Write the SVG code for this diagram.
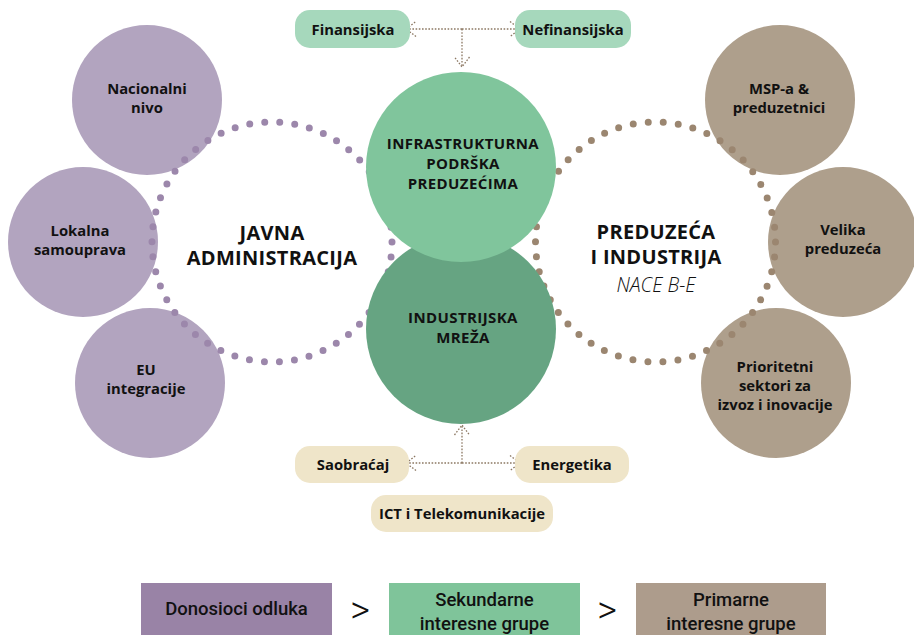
<svg xmlns="http://www.w3.org/2000/svg" width="914" height="635" viewBox="0 0 914 635">
<defs>
<style>
.t{font-family:"Open Sans","Liberation Sans",sans-serif;font-weight:700;fill:#111111;text-anchor:middle}
.s{font-size:14.8px}
.c{font-size:15px;letter-spacing:0.4px}
.big{font-size:20px;font-weight:700;letter-spacing:0.3px}
.nace{font-size:19.5px;font-weight:300;font-style:italic}
.p{font-size:14.8px}
.leg{font-family:Roboto,"Liberation Sans",sans-serif;font-weight:500;font-size:18.5px;fill:#111111;text-anchor:middle}
.gt{font-family:Roboto,"Liberation Sans",sans-serif;font-weight:300;font-size:38px;fill:#111111;text-anchor:middle}
.pur{fill:#b2a4bf}
.bro{fill:#ae9f8c}
.ring{fill:none;stroke-width:7;stroke-linecap:round;stroke-dasharray:0 15.08}
.con{fill:none;stroke:#8c7863;stroke-width:1.3;stroke-dasharray:1.6 1.6}
.gp{fill:#a6d8bc}
.bp{fill:#efe5c9}
</style>
<marker id="ah" viewBox="-12 -9 14 18" refX="0" refY="0" markerWidth="14" markerHeight="18" markerUnits="userSpaceOnUse" orient="auto">
<path d="M-10,-7.5 L0,0 L-10,7.5" fill="none" stroke="#8c7863" stroke-width="1.3" stroke-dasharray="1.6 1.6"/>
</marker>
</defs>
<rect width="914" height="635" fill="#ffffff"/>

<g id="nacionalni-nivo"><circle class="pur" cx="147" cy="100" r="75"/></g>
<g id="lokalna-samouprava"><circle class="pur" cx="83" cy="242" r="75"/></g>
<g id="eu-integracije"><circle class="pur" cx="150" cy="383" r="75"/></g>
<g id="msp"><circle class="bro" cx="780" cy="100" r="75"/></g>
<g id="velika-preduzeca"><circle class="bro" cx="843" cy="242" r="75"/></g>
<g id="prioritetni-sektori"><circle class="bro" cx="776" cy="383" r="75"/></g>

<g id="javna-administracija"><circle class="ring" cx="272" cy="242" r="120" stroke="#9c87ab"/></g>
<g id="preduzeca-i-industrija"><circle class="ring" cx="655.5" cy="242" r="120" stroke="#9b8670"/></g>

<g id="industrijska-mreza"><circle cx="461" cy="329" r="95" fill="#66a482"/></g>
<g id="infrastrukturna-podrska"><circle cx="461" cy="167" r="95" fill="#80c59c"/></g>

<g id="connectors">
<path class="con" d="M462,29 L406,29" marker-end="url(#ah)"/>
<path class="con" d="M462,29 L520,29" marker-end="url(#ah)"/>
<path class="con" d="M462,29 L462,67" marker-end="url(#ah)"/>
<path class="con" d="M462,463 L406,463" marker-end="url(#ah)"/>
<path class="con" d="M462,463 L520,463" marker-end="url(#ah)"/>
<path class="con" d="M462,463 L462,425" marker-end="url(#ah)"/>
</g>

<g id="finansijska"><rect class="gp" x="295" y="10" width="115" height="38" rx="15"/><text class="t p" x="353" y="35">Finansijska</text></g>
<g id="nefinansijska"><rect class="gp" x="515" y="10" width="116" height="38" rx="15"/><text class="t p" x="573" y="35">Nefinansijska</text></g>
<g id="saobracaj"><rect class="bp" x="295" y="446" width="114" height="37" rx="15"/><text class="t p" x="353" y="470">Saobraćaj</text></g>
<g id="energetika"><rect class="bp" x="515" y="446" width="114" height="37" rx="15"/><text class="t p" x="572" y="470">Energetika</text></g>
<g id="ict"><rect class="bp" x="371" y="495" width="182" height="37" rx="15"/><text class="t p" x="462" y="519">ICT i Telekomunikacije</text></g>

<g id="labels">
<text class="t s" x="147" y="94">Nacionalni</text>
<text class="t s" x="147" y="113">nivo</text>
<text class="t s" x="80" y="236">Lokalna</text>
<text class="t s" x="80" y="255">samouprava</text>
<text class="t s" x="146" y="375">EU</text>
<text class="t s" x="146" y="394">integracije</text>
<text class="t s" x="779" y="94">MSP-a &amp;</text>
<text class="t s" x="779" y="113">preduzetnici</text>
<text class="t s" x="843" y="235">Velika</text>
<text class="t s" x="843" y="254">preduzeća</text>
<text class="t s" x="775" y="372">Prioritetni</text>
<text class="t s" x="775" y="391">sektori za</text>
<text class="t s" x="775" y="410">izvoz i inovacije</text>
<text class="t big" x="272" y="240">JAVNA</text>
<text class="t big" x="272" y="265">ADMINISTRACIJA</text>
<text class="t big" x="656" y="239">PREDUZEĆA</text>
<text class="t big" x="656" y="264">I INDUSTRIJA</text>
<text class="t nace" x="656" y="292">NACE B-E</text>
<text class="t c" x="463" y="149">INFRASTRUKTURNA</text>
<text class="t c" x="463" y="169">PODRŠKA</text>
<text class="t c" x="463" y="189">PREDUZEĆIMA</text>
<text class="t c" x="463" y="323">INDUSTRIJSKA</text>
<text class="t c" x="463" y="343">MREŽA</text>
</g>

<g id="legend">
<g id="donosioci-odluka"><rect x="141" y="583" width="191" height="55" fill="#9983a6"/><text class="leg" x="236.5" y="615">Donosioci odluka</text></g>
<text class="gt" x="360" y="623">&gt;</text>
<g id="sekundarne"><rect x="389" y="583" width="191" height="55" fill="#7fc49a"/><text class="leg" x="484.5" y="606">Sekundarne</text><text class="leg" x="484.5" y="630">interesne grupe</text></g>
<text class="gt" x="607" y="623">&gt;</text>
<g id="primarne"><rect x="636" y="583" width="190" height="55" fill="#ad9c8c"/><text class="leg" x="731" y="606">Primarne</text><text class="leg" x="731" y="630">interesne grupe</text></g>
</g>
</svg>
